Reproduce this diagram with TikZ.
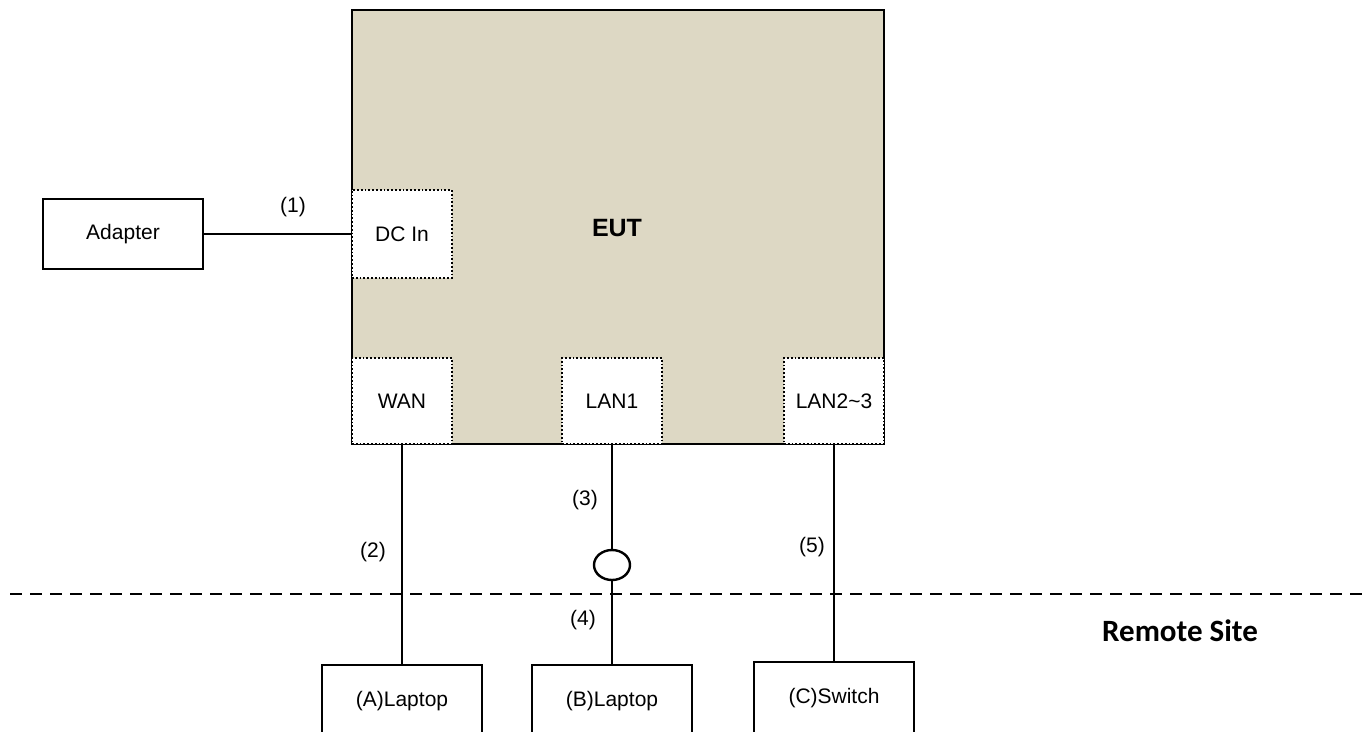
\documentclass[tikz,border=0pt]{standalone}
\usepackage{fontspec}
\setmainfont{Liberation Sans}
\newfontfamily\remotefont{Carlito}
\usetikzlibrary{shapes.geometric}
\definecolor{eutfill}{RGB}{221,216,196}

\begin{document}
\begin{tikzpicture}[x=1pt,y=-1pt,
  every node/.style={font=\fontsize{21}{25}\selectfont},
  box/.style={draw, line width=2.4pt, fill=white, inner sep=0pt, minimum width=160pt},
  port/.style={draw, dotted, line width=1.8pt, fill=white, inner sep=0pt, minimum width=100pt},
  wire/.style={line width=2.4pt}]

\useasboundingbox (0,0) rectangle (1370,731);
\clip (0,0) rectangle (1370,731);

%%%%% EUT and its ports
\node [draw, line width=2.6pt, fill=eutfill, minimum width=532pt, minimum height=434pt] (eut) at (618,227) {};
\node [font=\fontsize{25}{30}\selectfont\bfseries] (eutlabel) at (617,228) {EUT};
\node [port, minimum height=88pt] (dcin) at (402,234) {DC In};
\node [port, minimum height=86pt] (wan) at (402,401) {WAN};
\node [port, minimum height=86pt] (lan1) at (612,401) {LAN1};
\node [port, minimum height=86pt] (lan23) at (834,401) {LAN2\textasciitilde 3};

%%%%% Adapter
\node [box, minimum height=70pt] (adapter) at (123,234) {Adapter};
\draw [wire] (adapter) -- (dcin);
\node (n1) at (293,207) {(1)};

%%%%% Remote site
\coordinate (siteW) at (10,594); \coordinate (siteE) at (1370,594);
\draw [line width=2.8pt, dash pattern=on 12pt off 8pt] (siteW) -- (siteE);
\node [font=\fontsize{31}{36}\selectfont\remotefont\bfseries] (remote) at (1180,631) {Remote Site};

%%%%% Peers
\node [box, minimum height=72pt] (laptopA) at (402,701) {(A)Laptop};
\node [box, minimum height=72pt] (laptopB) at (612,701) {(B)Laptop};
\node [box, minimum height=72pt] (switchC) at (834,698) {(C)Switch};
\node [draw, line width=2.4pt, ellipse, inner sep=0pt, minimum width=36pt, minimum height=30pt] (joint) at (612,565) {};

\draw [wire] (wan) -- (laptopA);
\draw [wire] (lan1) -- (joint); \draw [wire] (joint) -- (laptopB);
\draw [wire] (lan23) -- (switchC);

\node (n2) at (373,552) {(2)}; \node (n3) at (585,500) {(3)}; \node (n4) at (583,620) {(4)}; \node (n5) at (812,547) {(5)};

\end{tikzpicture}
\end{document}
